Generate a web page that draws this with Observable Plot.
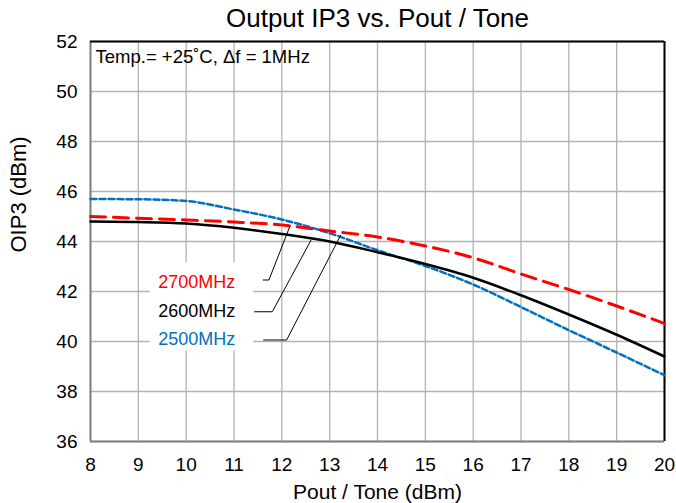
<!DOCTYPE html>
<html><head><meta charset="utf-8">
<script src="https://cdn.jsdelivr.net/npm/d3@7"></script>
<script src="https://cdn.jsdelivr.net/npm/@observablehq/plot@0.6"></script>
<style>body{margin:0;background:#fff} svg{display:block}</style>
</head><body><div id="chart"></div>
<script>
const pout = [8, 9, 10, 11, 12, 13, 14, 15, 16, 17, 18, 19, 20];
const oip3_2500 = [45.70, 45.69, 45.62, 45.28, 44.88, 44.33, 43.65, 43.02, 42.28, 41.38, 40.45, 39.56, 38.65];
const oip3_2600 = [44.80, 44.78, 44.72, 44.55, 44.30, 44.00, 43.57, 43.10, 42.55, 41.85, 41.08, 40.27, 39.40];
const oip3_2700 = [45.00, 44.93, 44.86, 44.78, 44.66, 44.42, 44.18, 43.82, 43.35, 42.70, 42.08, 41.42, 40.72];
const seriesNames = ["2500MHz", "2600MHz", "2700MHz"];
const seriesColors = ["#0070c0", "#000000", "#ff0000"];
const xTicks = [8, 9, 10, 11, 12, 13, 14, 15, 16, 17, 18, 19, 20];
const yTicks = [36, 38, 40, 42, 44, 46, 48, 50, 52];
// label positions (data units)
const labelX = [10.22, 10.22, 10.22];
const labelYs = [40.10, 41.22, 42.38];
// leader lines: start (x,y), elbow x, end (x,y)
const leadStartX = [11.62, 11.43, 11.61];
const leadElbowX = [12.10, 11.80, 11.73];
const leadEndX = [13.23, 12.61, 12.17];
const leadEndY = [44.25, 44.05, 44.62];
const leadY = [40.06, 41.19, 42.46];
const labelBox = {x1: 9.25, x2: 11.41, y1: 39.63, y2: 43.14};
const titleText = "Output IP3 vs. Pout / Tone";
const noteText = "Temp.= +25˚C, Δf = 1MHz";
const xLabel = "Pout / Tone (dBm)";
const yLabel = "OIP3 (dBm)";

const series = [oip3_2500, oip3_2600, oip3_2700];
const rows = series.flatMap((vals, i) => pout.map((p, j) => ({x: p, y: vals[j], s: seriesNames[i]})));
const leaders = seriesNames.flatMap((s, i) => [
  {x: leadStartX[i], y: leadY[i], s},
  {x: leadElbowX[i], y: leadY[i], s},
  {x: leadEndX[i], y: leadEndY[i], s}
]);
const labels = seriesNames.map((s, i) => ({x: labelX[i], y: labelYs[i], s, c: seriesColors[i]}));
const styles = {
  "2500MHz": {stroke: seriesColors[0], strokeWidth: 2.5, strokeDasharray: "6,3"},
  "2600MHz": {stroke: seriesColors[1], strokeWidth: 2.5, strokeDasharray: null},
  "2700MHz": {stroke: seriesColors[2], strokeWidth: 3, strokeDasharray: "15,8"}
};

const font = "'Liberation Sans', Arial, sans-serif";
const chart = Plot.plot({
  width: 676, height: 503,
  marginLeft: 90, marginRight: 12, marginTop: 41, marginBottom: 62,
  style: {fontFamily: font, fontSize: "16px", color: "#000", background: "#fff", overflow: "visible"},
  x: {domain: [8, 20]},
  y: {domain: [36, 52]},
  marks: [
    Plot.gridX(xTicks, {stroke: "#b3b3b3", strokeOpacity: 1, strokeWidth: 1.3}),
    Plot.gridY(yTicks, {stroke: "#b3b3b3", strokeOpacity: 1, strokeWidth: 1.3}),
    Plot.rect([labelBox], {x1: "x1", x2: "x2", y1: "y1", y2: "y2", fill: "#fff"}),
    Plot.ruleX([8], {stroke: "#808080", strokeWidth: 2}),
    Plot.ruleY([36], {stroke: "#808080", strokeWidth: 2}),
    Plot.ruleX([20], {stroke: "#000", strokeWidth: 2}),
    Plot.ruleY([52], {stroke: "#000", strokeWidth: 2}),
    ...seriesNames.map(s => Plot.line(rows.filter(d => d.s === s), {x: "x", y: "y", curve: "monotone-x", ...styles[s]})),
    Plot.line(leaders, {x: "x", y: "y", z: "s", stroke: "#000", strokeWidth: 1}),
    Plot.text(labels, {x: "x", y: "y", text: "s", fill: "c", fontSize: 18}),
    Plot.axisX(xTicks, {tickSize: 0, tickPadding: 16, fontSize: 19, label: null}),
    Plot.axisY(yTicks, {tickSize: 0, tickPadding: 13, fontSize: 19, label: null}),
    Plot.text([xLabel], {frameAnchor: "bottom", lineAnchor: "middle", dy: 51, fontSize: 21}),
    Plot.text([yLabel], {frameAnchor: "left", lineAnchor: "middle", rotate: -90, dx: -72, dy: 11, fontSize: 22}),
    Plot.text([titleText], {frameAnchor: "top", lineAnchor: "middle", dy: -23, fontSize: 26}),
    Plot.text([noteText], {frameAnchor: "top-left", textAnchor: "start", lineAnchor: "middle", dx: 5, dy: 16, fontSize: 18.5})
  ]
});
document.getElementById("chart").appendChild(chart);
</script>
</body></html>
